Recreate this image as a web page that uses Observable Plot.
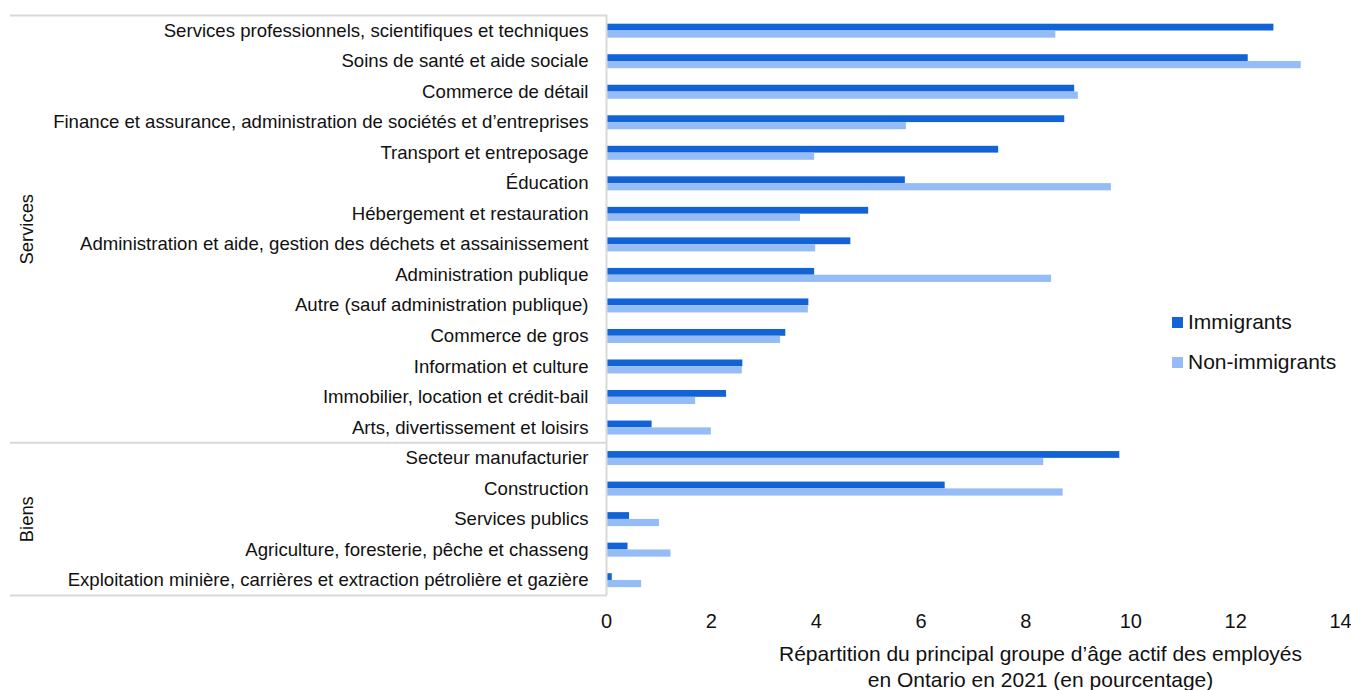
<!DOCTYPE html>
<html>
<head>
<meta charset="utf-8">
<script src="https://cdn.jsdelivr.net/npm/d3@7"></script>
<script src="https://cdn.jsdelivr.net/npm/@observablehq/plot@0.6"></script>
<style>
  html, body { margin: 0; padding: 0; background: #fff; }
  #wrap { position: relative; width: 1351px; height: 690px; font-family: "Liberation Sans", Arial, sans-serif; }
  #legend { position: absolute; left: 1172px; top: 307px; font-size: 21px; color: #111; }
  #legend .item { display: flex; align-items: center; height: 30px; margin-bottom: 10px; }
  #legend .sw { width: 11px; height: 11px; margin-right: 5px; }
</style>
</head>
<body>
<div id="wrap"><div id="legend"></div></div>
<script>
const categories = [
  "Services professionnels, scientifiques et techniques",
  "Soins de santé et aide sociale",
  "Commerce de détail",
  "Finance et assurance, administration de sociétés et d’entreprises",
  "Transport et entreposage",
  "Éducation",
  "Hébergement et restauration",
  "Administration et aide, gestion des déchets et assainissement",
  "Administration publique",
  "Autre (sauf administration publique)",
  "Commerce de gros",
  "Information et culture",
  "Immobilier, location et crédit-bail",
  "Arts, divertissement et loisirs",
  "Secteur manufacturier",
  "Construction",
  "Services publics",
  "Agriculture, foresterie, pêche et chasseng",
  "Exploitation minière, carrières et extraction pétrolière et gazière"
];
const sectorNames = ["Services", "Biens"];
const sectorSizes = [14, 5];
const seriesNames = ["Immigrants", "Non-immigrants"];
const immigrants = [12.73, 12.24, 8.93, 8.74, 7.48, 5.70, 5.00, 4.66, 3.97, 3.86, 3.42, 2.60, 2.29, 0.87, 9.79, 6.46, 0.44, 0.41, 0.11];
const nonImmigrants = [8.57, 13.25, 9.00, 5.72, 3.97, 9.63, 3.70, 3.99, 8.49, 3.85, 3.32, 2.59, 1.70, 2.00, 8.34, 8.71, 1.01, 1.23, 0.67];
const xTicks = [0, 2, 4, 6, 8, 10, 12, 14];
const axisTitle = "Répartition du principal groupe d’âge actif des employés\nen Ontario en 2021 (en pourcentage)";

const colors = ["#1163D6", "#95BCF6"];
const W = 1351, H = 690, mT = 15, mB = 95, mL = 606, mR = 11;
const band = (H - mT - mB) / categories.length;

const rowsImm = categories.map((c, i) => ({category: c, value: immigrants[i]}));
const rowsNon = categories.map((c, i) => ({category: c, value: nonImmigrants[i]}));

// sector boundaries and label positions
const boundaries = [];
const sectorLabels = [];
let start = 0;
sectorSizes.forEach((n, k) => {
  boundaries.push({category: categories[start], off: -band / 2});
  const mid = start + (n - 1) / 2;
  const fl = Math.floor(mid);
  sectorLabels.push({category: categories[fl], name: sectorNames[k], off: (mid - fl) * band});
  start += n;
});
boundaries.push({category: categories[categories.length - 1], off: band / 2});

const lineColor = "#d9d9d9";
const font = '"Liberation Sans", Arial, sans-serif';

const chart = Plot.plot({
  width: W, height: H,
  marginTop: mT, marginBottom: mB, marginLeft: mL, marginRight: mR,
  style: {fontFamily: font, fontSize: "18px", color: "#111", background: "#fff"},
  x: {domain: [0, 14], label: null},
  y: {domain: categories, padding: 0, round: false, label: null},
  marks: [
    Plot.barX(rowsImm, {y: "category", x: "value", fill: colors[0], insetTop: 8.7, insetBottom: band - 8.7 - 6.8}),
    Plot.barX(rowsNon, {y: "category", x: "value", fill: colors[1], insetTop: 15.5, insetBottom: band - 15.5 - 7.2}),
    Plot.ruleX([0], {stroke: lineColor, strokeWidth: 2}),
    ...boundaries.map(b => Plot.ruleY([b], {y: "category", dy: b.off, stroke: lineColor, strokeWidth: 2, insetLeft: -(mL - 10), insetRight: W - mR - mL - 1})),
    Plot.axisY({tickSize: 0, tickPadding: 18, fontSize: 18.6, label: null}),
    Plot.axisX({ticks: xTicks, tickSize: 0, tickPadding: 18, fontSize: 20, label: null}),
    ...sectorLabels.map(s => Plot.text([s], {y: "category", text: "name", dy: s.off, frameAnchor: "left", textAnchor: "middle", dx: -(mL - 27), rotate: -90, fontSize: 18.4, fill: "#111"})),
    Plot.text([axisTitle], {frameAnchor: "bottom", dx: 67, dy: 48, lineAnchor: "top", lineHeight: 1.2, fontSize: 21, fill: "#111"})
  ]
});
const wrap = document.getElementById("wrap");
wrap.insertBefore(chart, wrap.firstChild);

const legend = document.getElementById("legend");
seriesNames.forEach((name, i) => {
  const item = document.createElement("div");
  item.className = "item";
  const sw = document.createElement("span");
  sw.className = "sw";
  sw.style.background = colors[i];
  const t = document.createElement("span");
  t.textContent = name;
  item.appendChild(sw);
  item.appendChild(t);
  legend.appendChild(item);
});
</script>
</body>
</html>
